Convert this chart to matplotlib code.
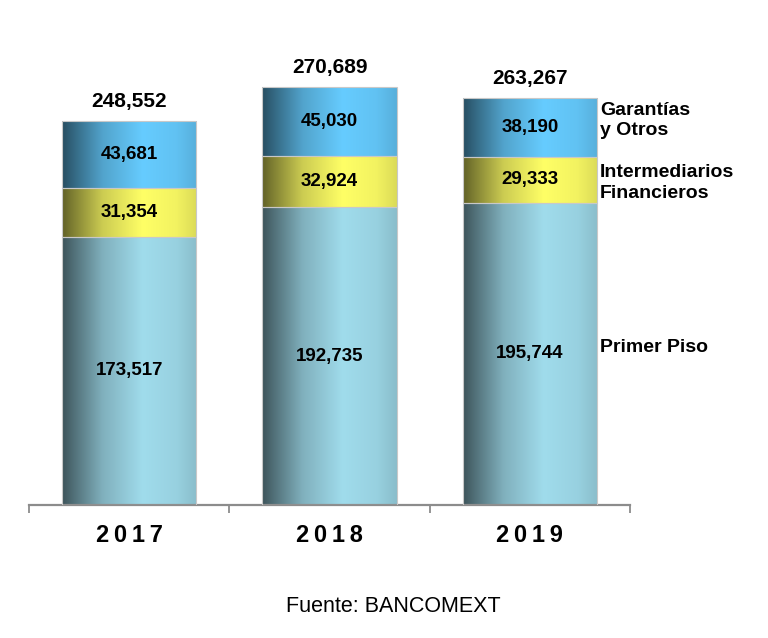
import matplotlib.pyplot as plt
import numpy as np
from matplotlib.colors import to_rgb

years = ["2017", "2018", "2019"]
primer_piso = [173517, 192735, 195744]
intermediarios = [31354, 32924, 29333]
garantias = [43681, 45030, 38190]
totals = [248552, 270689, 263267]
series_names = ["Primer Piso", "Intermediarios\nFinancieros", "Garantías\ny Otros"]

colors = ["#a0dcec", "#ffff66", "#66ccff"]

plt.rcParams["font.family"] = ["Liberation Sans", "DejaVu Sans"]

fig = plt.figure(figsize=(7.68, 6.38), dpi=100)
ax = fig.add_axes([0.0378, 0.2085, 0.7825, 0.7265])

x = np.arange(len(years))
width = 0.67

# shading across the bar width (cylinder look)
px = np.linspace(0, 1, 200)
shade = np.interp(px, [0, 0.08, 0.3, 0.6, 0.85, 1.0], [0.38, 0.5, 0.8, 1.0, 0.95, 0.86])


def shaded_bars(bottom, values, color):
    bars = ax.bar(x, values, width, bottom=bottom, facecolor="none",
                  edgecolor="#c8c8c8", linewidth=0.8, zorder=3)
    rgb = np.array(to_rgb(color))
    img = np.clip(shade[None, :, None] * rgb[None, None, :], 0, 1)
    for b in bars:
        x0, y0 = b.get_x(), b.get_y()
        im = ax.imshow(img, extent=[x0, x0 + b.get_width(), y0, y0 + b.get_height()],
                       aspect="auto", interpolation="bilinear", zorder=2)
        im.set_clip_path(b)
    return bars


b1 = shaded_bars(np.zeros(3), primer_piso, colors[0])
bottom2 = np.array(primer_piso)
b2 = shaded_bars(bottom2, intermediarios, colors[1])
bottom3 = bottom2 + np.array(intermediarios)
b3 = shaded_bars(bottom3, garantias, colors[2])

for vals, bots in [(primer_piso, np.zeros(3)), (intermediarios, bottom2),
                   (garantias, bottom3)]:
    for i in range(3):
        ax.text(x[i], bots[i] + vals[i] / 2, f"{vals[i]:,}", ha="center", va="center",
                fontsize=13.5, fontweight="bold", color="black", zorder=5)

for i in range(3):
    ax.text(x[i], totals[i] + 6500, f"{totals[i]:,}", ha="center", va="bottom",
            fontsize=15, fontweight="bold", color="black", zorder=5)

# series names at the right of the last bar
label_y = [primer_piso[2] * 0.52, bottom2[2] + intermediarios[2] * 0.43,
           bottom3[2] + garantias[2] * 0.62]
for name, yy in zip(series_names, label_y):
    ax.text(2.5 - 0.15, yy, name, ha="left", va="center", fontsize=14,
            fontweight="bold", linespacing=1.25, clip_on=False)

ax.set_xlim(-0.5, 2.5)
ax.set_ylim(0, 300000)
for s in ["top", "right", "left"]:
    ax.spines[s].set_visible(False)
ax.spines["bottom"].set_color("#8c8c8c")
ax.spines["bottom"].set_linewidth(1.6)
ax.set_yticks([])
ax.set_xticks(x)
ax.set_xticklabels(["\u2009".join(y) for y in years], fontsize=17, fontweight="bold")
ax.tick_params(axis="x", which="major", length=0, pad=14)
ax.set_xticks([-0.5, 0.5, 1.5, 2.5], minor=True)
ax.tick_params(axis="x", which="minor", length=6, width=1.3, color="#8c8c8c")

fig.text(0.512, 0.05, "Fuente: BANCOMEXT", ha="center", va="center", fontsize=15.5)

fig.savefig("out.png", dpi=100)
